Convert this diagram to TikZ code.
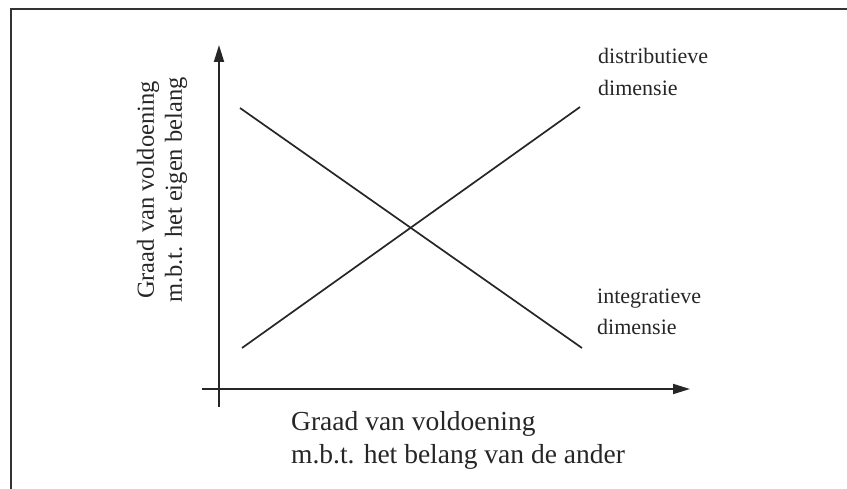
\documentclass[tikz,border=0pt]{standalone}
\usepackage{fontspec}
\setmainfont{Liberation Serif}
\usetikzlibrary{arrows.meta}

\begin{document}
\begin{tikzpicture}[x=1pt, y=-1pt,
  axis/.style={line width=1.9pt, black!85, -{Triangle[length=17pt, width=10pt]}},
  dimline/.style={line width=1.7pt, black!85},
  dimlabel/.style={anchor=base west, inner sep=0pt, align=left,
    font=\fontsize{22}{32}\selectfont, black!85},
  axislabel/.style={inner sep=0pt, black!85}
]

\useasboundingbox (0,0) rectangle (847,489);

% Frame (open at the bottom)
\draw[line width=2.2pt, black!80] (11,489) -- (11,9) -- (847,9);

% Axes
\coordinate (ybot)   at (219,407);
\coordinate (ytop)   at (219,45);
\coordinate (xleft)  at (202,389);
\coordinate (xright) at (690,389);
\draw[axis] (ybot) -- (ytop);
\draw[axis] (xleft) -- (xright);

% The two dimensions
\coordinate (dstart) at (242,348);
\coordinate (dend)   at (580,107);
\coordinate (istart) at (240,108);
\coordinate (iend)   at (582,348);
\draw[dimline] (dstart) -- (dend);
\draw[dimline] (istart) -- (iend);

% Labels (base anchor sits on the last line)
\node[dimlabel] (dist)  at (598,96)  {distributieve\\dimensie};
\node[dimlabel] (integ) at (597,335) {integratieve\\dimensie};
\node[axislabel, anchor=base west, align=left,
      font=\fontsize{27.5}{33}\selectfont] (xlab) at (291,463)
  {Graad van voldoening\\m.b.t. het belang van de ander};
\node[axislabel, rotate=90, align=center,
      font=\fontsize{24.5}{28}\selectfont] (ylab) at (162,190)
  {Graad van voldoening\\m.b.t. het eigen belang};

\end{tikzpicture}
\end{document}
